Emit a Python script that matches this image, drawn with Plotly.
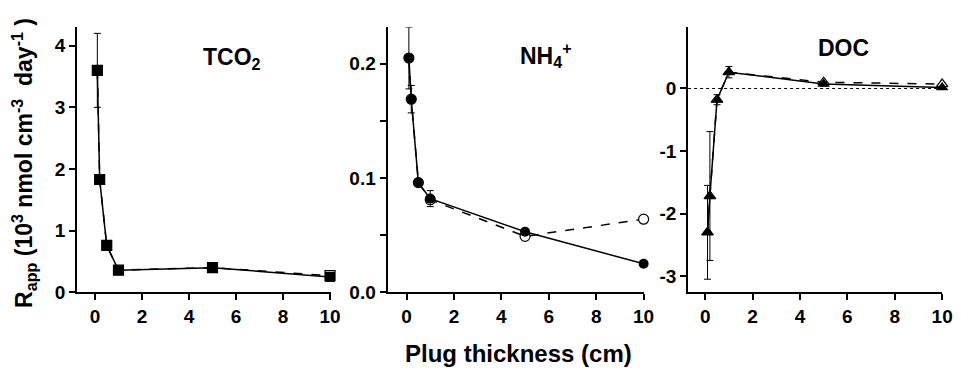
import plotly.graph_objects as go

# ---- data ----
thickness = [0.1, 0.2, 0.5, 1, 5, 10]

tco2_filled = [3.6, 1.83, 0.76, 0.36, 0.40, 0.25]
tco2_filled_err = [0.6, 0.05, 0.03, 0.03, 0.03, 0.02]
tco2_open = [3.6, 1.83, 0.76, 0.36, 0.40, 0.27]

nh4_filled = [0.205, 0.169, 0.096, 0.082, 0.053, 0.025]
nh4_filled_err = [0.027, 0.012, 0.003, 0.007, 0.002, 0.001]
nh4_open = [0.205, 0.169, 0.096, 0.081, 0.049, 0.064]

doc_filled = [-2.3, -1.72, -0.18, 0.26, 0.07, 0.015]
doc_filled_err = [0.75, 1.03, 0.08, 0.09, 0.03, 0.02]
doc_open = [-2.3, -1.72, -0.18, 0.26, 0.10, 0.07]

x_ticks = [0, 2, 4, 6, 8, 10]
x_ticktext = ["0", "2", "4", "6", "8", "10"]
tco2_ticks = [0, 1, 2, 3, 4]
tco2_ticktext = ["0", "1", "2", "3", "4"]
nh4_tickvals = [0, 0.1, 0.2]
nh4_ticktext = ["0.0", "0.1", "0.2"]
doc_ticks = [-3, -2, -1, 0, 1]
doc_ticktext = ["-3", "-2", "-1", "0", "1"]

panel_titles = ["TCO<sub>2</sub>", "NH<sub>4</sub><sup>+</sup>", "DOC"]
y_title = "R<sub>app</sub> (10<sup>3</sup> nmol cm<sup>-3</sup>  day<sup>-1</sup> )"
x_title = "Plug thickness (cm)"

W, H = 968, 382
FONT = "Liberation Sans"


def bold(labels):
    return ["<b>" + t + "</b>" for t in labels]


fig = go.Figure()

panels = [
    ("x", "y", tco2_filled, tco2_filled_err, tco2_open, "square"),
    ("x2", "y2", nh4_filled, nh4_filled_err, nh4_open, "circle"),
    ("x3", "y3", doc_filled, doc_filled_err, doc_open, "triangle-up"),
]
for xa, ya, filled, err, opn, sym in panels:
    fig.add_trace(go.Scatter(
        x=thickness, y=opn, xaxis=xa, yaxis=ya, mode="lines+markers",
        line=dict(color="black", width=1.5, dash="dash"),
        marker=dict(symbol=sym, size=10, color="white", line=dict(color="black", width=1.2)),
        cliponaxis=False, showlegend=False))
    fig.add_trace(go.Scatter(
        x=thickness, y=filled, xaxis=xa, yaxis=ya, mode="lines+markers",
        line=dict(color="black", width=1.5),
        marker=dict(symbol=sym, size=10 if sym != "triangle-up" else 11, color="black"),
        error_y=dict(type="data", array=err, color="black", thickness=1, width=3.5),
        cliponaxis=False, showlegend=False))


def px_x(p):
    return p / W


def px_y(p):
    return 1 - p / H


ydom = [px_y(301), px_y(28)]
axis_common = dict(
    showline=True, linewidth=2, linecolor="black", ticks="outside", ticklen=6,
    tickwidth=1.5, tickcolor="black", showgrid=False, zeroline=False,
    tickfont=dict(family=FONT, size=19, color="black", weight=700),
)

fig.update_layout(
    width=W, height=H, margin=dict(l=0, r=0, t=0, b=0),
    paper_bgcolor="white", plot_bgcolor="white",
    xaxis=dict(domain=[px_x(78), px_x(335)], range=[-0.76, 10.05], tickvals=x_ticks,
               ticktext=bold(x_ticktext), anchor="y", **axis_common),
    yaxis=dict(domain=ydom, range=[0, 4.3], tickvals=tco2_ticks, ticktext=bold(tco2_ticktext),
               anchor="x", **axis_common),
    xaxis2=dict(domain=[px_x(392), px_x(651)], range=[-0.8, 10.0], tickvals=x_ticks,
                ticktext=bold(x_ticktext), anchor="y2", **axis_common),
    yaxis2=dict(domain=ydom, range=[0, 0.232], tickvals=nh4_tickvals, ticktext=bold(nh4_ticktext),
                anchor="x2",
                minor=dict(dtick=0.05, ticks="outside", ticklen=6, tickwidth=1.5, tickcolor="black"),
                **axis_common),
    xaxis3=dict(domain=[px_x(696), px_x(953)], range=[-0.72, 10.0], tickvals=x_ticks,
                ticktext=bold(x_ticktext), anchor="y3", **axis_common),
    yaxis3=dict(domain=ydom, range=[-3.26, 0.98], tickvals=doc_ticks, ticktext=bold(doc_ticktext),
                anchor="x3", **axis_common),
)

# dotted zero line in DOC panel
fig.add_shape(type="line", xref="x3 domain", yref="y3", x0=0, x1=1, y0=0, y1=0,
              line=dict(color="black", width=1, dash="dot"))

title_pos = [(235, 60), (552, 57), (853, 49)]
for t, (px, py) in zip(panel_titles, title_pos):
    fig.add_annotation(x=px_x(px), y=px_y(py), xref="paper", yref="paper", text="<b>" + t + "</b>",
                       showarrow=False, font=dict(family=FONT, size=23, color="black"),
                       xanchor="center", yanchor="middle")

fig.add_annotation(x=px_x(24), y=px_y(168), xref="paper", yref="paper", text="<b>" + y_title + "</b>",
                   textangle=-90, showarrow=False, font=dict(family=FONT, size=23, color="black"),
                   xanchor="center", yanchor="middle")
fig.add_annotation(x=px_x(524), y=px_y(364), xref="paper", yref="paper", text="<b>" + x_title + "</b>",
                   showarrow=False, font=dict(family=FONT, size=24, color="black"),
                   xanchor="center", yanchor="middle")

fig.write_html("out.html")
